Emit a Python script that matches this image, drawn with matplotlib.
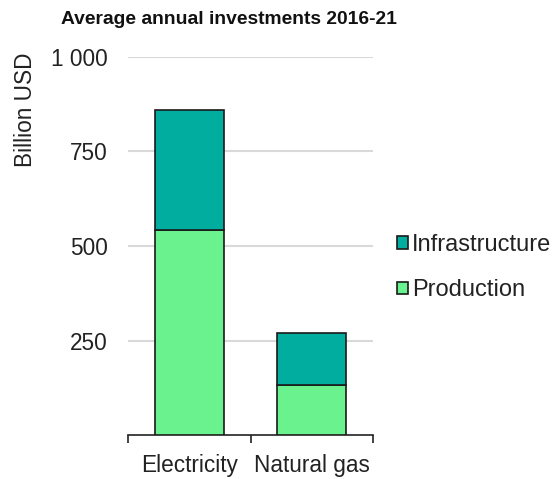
import matplotlib
matplotlib.use("Agg")
import matplotlib.pyplot as plt
from matplotlib.patches import Patch
from matplotlib.ticker import FixedLocator

plt.rcParams['font.family'] = ['Liberation Sans', 'DejaVu Sans']

categories = ["Electricity", "Natural gas"]
production = [543, 132]
infrastructure = [316, 137]
series_names = ["Infrastructure", "Production"]
c_infra = "#00AD9F"
c_prod = "#69F28D"
yticks = [250, 500, 750, 1000]
ytick_labels = ["250", "500", "750", "1 000"]

FS = 16.3
LFS = 17

fig = plt.figure(figsize=(5.6, 4.79), dpi=100)
ax = fig.add_axes([128/560, 1-435/479, (373-128)/560, (435-57)/479])

x = range(len(categories))
ax.bar(x, production, width=0.56, color=c_prod, edgecolor="#1a1a1a", linewidth=1.2, zorder=3)
ax.bar(x, infrastructure, bottom=production, width=0.56, color=c_infra, edgecolor="#1a1a1a", linewidth=1.2, zorder=3)

ax.set_xlim(-0.5, 1.5)
ax.set_ylim(0, 1000)
ax.set_yticks(yticks)
ax.set_yticklabels(ytick_labels)
ax.yaxis.grid(True, color="#D9D9D9", linewidth=1.5, zorder=0)
ax.tick_params(axis='y', length=0, labelsize=FS, pad=14.4, colors="#222222")
ax.set_xticks(list(x))
ax.set_xticklabels(categories)
ax.tick_params(axis='x', which='major', length=0, labelsize=FS, pad=14, colors="#222222")
ax.xaxis.set_minor_locator(FixedLocator([-0.5, 0.5, 1.5]))
ax.tick_params(axis='x', which='minor', length=6, width=1.2, color="#222222")
for s in ['left', 'right', 'top']:
    ax.spines[s].set_visible(False)
ax.spines['bottom'].set_linewidth(1.2)
ax.spines['bottom'].set_color("#222222")

fig.text(228.5/560, 1-19/479, "Average annual investments 2016-21", ha='center', va='center',
         fontsize=13.9, fontweight='bold', color="#111111")
fig.text(26/560, 1-110/479, "Billion USD", rotation=90, ha='center', va='center',
         fontsize=FS, color="#222222")

handles = [Patch(facecolor=c_infra, edgecolor="#1a1a1a", linewidth=1.2, label=series_names[0]),
           Patch(facecolor=c_prod, edgecolor="#1a1a1a", linewidth=1.2, label=series_names[1])]
fig.legend(handles=handles, loc='center left', bbox_to_anchor=(397/560, 1-267.5/479),
           frameon=False, fontsize=LFS, handlelength=0.45, handleheight=0.45,
           handletextpad=0.2, labelspacing=1.0, borderpad=0, borderaxespad=0,
           labelcolor="#222222")

fig.savefig("out.png", dpi=100)
